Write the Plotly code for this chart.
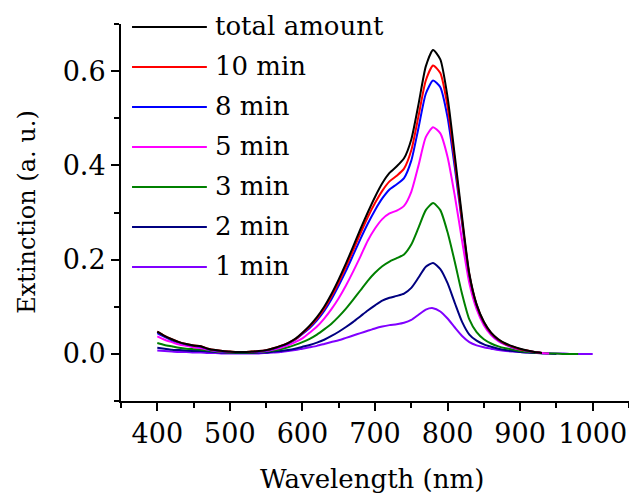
import plotly.graph_objects as go

wavelength = list(range(400, 1001, 10))

series_names = ["total amount", "10 min", "8 min", "5 min", "3 min", "2 min", "1 min"]
series_colors = ["#000000", "#FF0000", "#0000FF", "#FF00FF", "#008000", "#000080", "#8000FF"]

N = None
total_amount = [0.047, 0.038, 0.031, 0.025, 0.021, 0.018, 0.016, 0.011, 0.008, 0.006,
                0.005, 0.004, 0.004, 0.005, 0.006, 0.008, 0.012, 0.017, 0.023, 0.032,
                0.045, 0.060, 0.078, 0.100, 0.127, 0.158, 0.192, 0.228, 0.265, 0.300,
                0.333, 0.362, 0.384, 0.398, 0.415, 0.455, 0.530, 0.610, 0.645, 0.625,
                0.545, 0.420, 0.290, 0.170, 0.105, 0.068, 0.045, 0.031, 0.022, 0.016,
                0.011, 0.007, 0.004, 0.002, N, N, N, N, N, N, N]
min_10 = [0.047, 0.038, 0.031, 0.025, 0.021, 0.018, 0.016, 0.011, 0.008, 0.006,
          0.005, 0.004, 0.004, 0.005, 0.006, 0.008, 0.012, 0.017, 0.023, 0.031,
          0.044, 0.058, 0.075, 0.096, 0.122, 0.152, 0.185, 0.220, 0.256, 0.290,
          0.320, 0.346, 0.366, 0.378, 0.393, 0.432, 0.505, 0.580, 0.612, 0.596,
          0.525, 0.408, 0.283, 0.168, 0.104, 0.067, 0.044, 0.030, 0.021, 0.015,
          0.010, 0.007, 0.004, 0.002, N, N, N, N, N, N, N]
min_8 = [0.044, 0.036, 0.029, 0.024, 0.020, 0.017, 0.015, 0.010, 0.007, 0.005,
         0.004, 0.004, 0.004, 0.004, 0.005, 0.007, 0.011, 0.016, 0.022, 0.030,
         0.042, 0.055, 0.071, 0.091, 0.116, 0.145, 0.176, 0.210, 0.244, 0.276,
         0.305, 0.330, 0.349, 0.360, 0.373, 0.410, 0.480, 0.552, 0.580, 0.566,
         0.502, 0.395, 0.277, 0.166, 0.103, 0.066, 0.043, 0.029, 0.020, 0.014,
         0.010, 0.006, 0.004, 0.002, N, N, N, N, N, N, N]
min_5 = [0.037, 0.030, 0.025, 0.020, 0.017, 0.014, 0.012, 0.009, 0.006, 0.005,
         0.004, 0.004, 0.004, 0.004, 0.005, 0.006, 0.009, 0.013, 0.018, 0.025,
         0.033, 0.045, 0.058, 0.075, 0.095, 0.118, 0.145, 0.175, 0.207, 0.240,
         0.266, 0.286, 0.298, 0.304, 0.314, 0.344, 0.400, 0.460, 0.481, 0.468,
         0.418, 0.335, 0.240, 0.150, 0.095, 0.061, 0.040, 0.027, 0.019, 0.013,
         0.009, 0.006, 0.004, 0.002, 0.001, N, N, N, N, N, N]
min_3 = [0.023, 0.019, 0.016, 0.013, 0.011, 0.010, 0.009, 0.007, 0.005, 0.004,
         0.003, 0.003, 0.003, 0.003, 0.004, 0.005, 0.007, 0.010, 0.014, 0.019,
         0.025, 0.032, 0.041, 0.052, 0.064, 0.079, 0.096, 0.115, 0.135, 0.155,
         0.172, 0.186, 0.196, 0.203, 0.211, 0.232, 0.268, 0.305, 0.320, 0.305,
         0.258, 0.195, 0.127, 0.073, 0.046, 0.031, 0.022, 0.016, 0.012, 0.009,
         0.006, 0.004, 0.003, 0.002, 0.001, 0.001, 0.000, 0.000, 0.000, N, N]
min_2 = [0.013, 0.011, 0.009, 0.008, 0.007, 0.006, 0.006, 0.005, 0.004, 0.003,
         0.003, 0.002, 0.002, 0.002, 0.003, 0.003, 0.005, 0.006, 0.008, 0.011,
         0.015, 0.019, 0.024, 0.030, 0.038, 0.047, 0.057, 0.068, 0.080, 0.092,
         0.103, 0.113, 0.119, 0.123, 0.128, 0.140, 0.162, 0.185, 0.193, 0.180,
         0.150, 0.108, 0.068, 0.041, 0.028, 0.020, 0.015, 0.011, 0.008, 0.006,
         0.004, 0.003, 0.002, 0.001, 0.001, 0.000, N, N, N, N, N]
min_1 = [0.007, 0.006, 0.005, 0.004, 0.004, 0.003, 0.003, 0.002, 0.002, 0.001,
         0.001, 0.001, 0.001, 0.001, 0.001, 0.002, 0.003, 0.004, 0.006, 0.008,
         0.011, 0.014, 0.017, 0.021, 0.025, 0.029, 0.034, 0.039, 0.044, 0.049,
         0.054, 0.058, 0.061, 0.063, 0.066, 0.072, 0.083, 0.094, 0.097, 0.090,
         0.075, 0.056, 0.038, 0.025, 0.018, 0.014, 0.011, 0.008, 0.006, 0.005,
         0.004, 0.003, 0.002, 0.002, 0.001, 0.001, 0.001, 0.000, 0.000, 0.000, 0.000]

series_values = [total_amount, min_10, min_8, min_5, min_3, min_2, min_1]

x_ticks = [400, 500, 600, 700, 800, 900, 1000]
y_ticks = [0.0, 0.2, 0.4, 0.6]
y_tick_text = ["0.0", "0.2", "0.4", "0.6"]

FONT = "DejaVu Serif"

fig = go.Figure()
for name, color, vals in reversed(list(zip(series_names, series_colors, series_values))):
    fig.add_trace(go.Scatter(x=wavelength, y=vals, mode="lines", name=name,
                             line=dict(color=color, width=2, shape="spline", smoothing=0.6),
                             connectgaps=False, showlegend=False, hoverinfo="skip"))

row_top = 0.992
row_step = 0.1061
for i, (name, color) in enumerate(zip(series_names, series_colors)):
    yy = row_top - i * row_step
    fig.add_shape(type="line", xref="paper", yref="paper", x0=0.0217, x1=0.169, y0=yy, y1=yy,
                  line=dict(color=color, width=2))
    fig.add_annotation(xref="paper", yref="paper", x=0.181, y=yy, text=name, showarrow=False,
                       xanchor="left", yanchor="middle", yshift=1,
                       font=dict(family=FONT, size=26, color="black"))

fig.add_annotation(xref="paper", yref="paper", x=0.494, y=-0.208, text="Wavelength (nm)",
                   showarrow=False, xanchor="center", yanchor="middle",
                   font=dict(family=FONT, size=26, color="black"))
fig.add_annotation(xref="paper", yref="paper", x=-0.185, y=0.502, text="Extinction (a. u.)",
                   showarrow=False, xanchor="center", yanchor="middle", textangle=-90,
                   font=dict(family=FONT, size=24, color="black"))

fig.update_xaxes(range=[350, 1050], tickvals=x_ticks, ticks="outside", ticklen=8, tickwidth=2,
                 tickcolor="black", showline=True, linecolor="black", linewidth=2,
                 showgrid=False, zeroline=False,
                 minor=dict(dtick=50, tick0=350, ticks="outside", ticklen=5, tickwidth=2,
                            tickcolor="black", showgrid=False),
                 tickfont=dict(family=FONT, size=27, color="black"))
fig.update_yaxes(range=[-0.1, 0.7], tickvals=y_ticks, ticktext=y_tick_text, ticks="outside",
                 ticklen=8, tickwidth=2, tickcolor="black", showline=True, linecolor="black",
                 linewidth=2, showgrid=False, zeroline=False,
                 minor=dict(dtick=0.1, tick0=-0.1, ticks="outside", ticklen=5, tickwidth=2,
                            tickcolor="black", showgrid=False),
                 tickfont=dict(family=FONT, size=27, color="black"))

fig.update_layout(width=629, height=500, margin=dict(l=121, r=0, t=24, b=99),
                  plot_bgcolor="white", paper_bgcolor="white", showlegend=False)

fig.write_html("out.html")
